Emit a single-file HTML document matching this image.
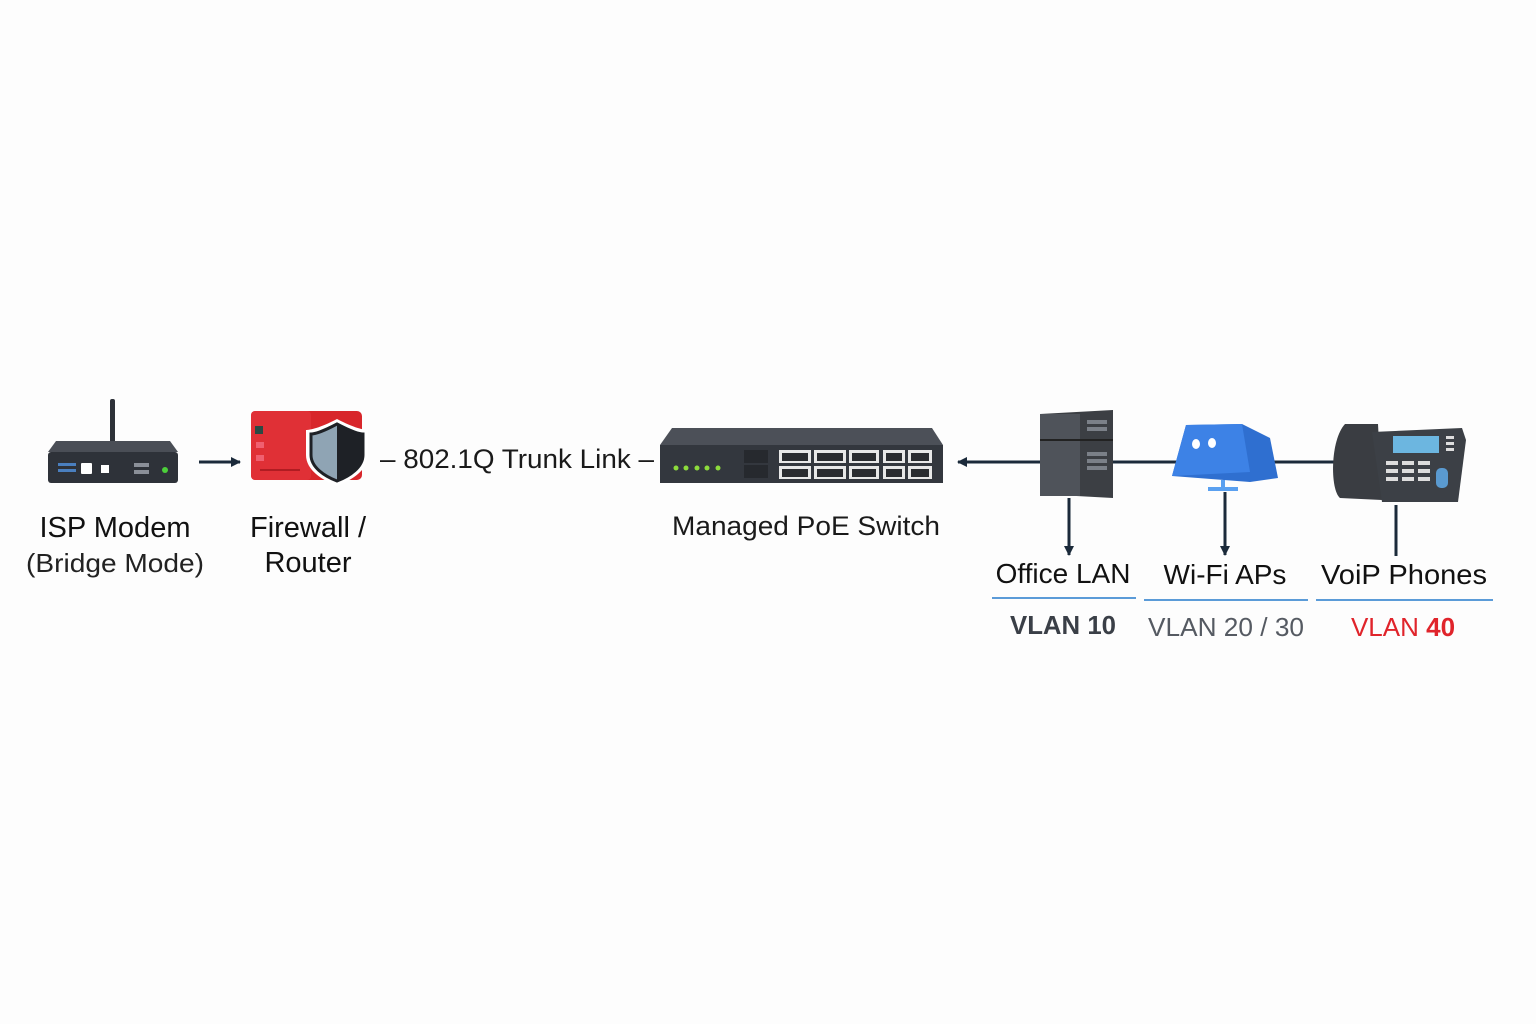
<!DOCTYPE html>
<html><head><meta charset="utf-8"><style>
html,body{margin:0;padding:0;background:#fdfdfd;}
svg{display:block;}
text{font-family:"Liberation Sans",sans-serif;}
</style></head><body>
<svg width="1536" height="1024" viewBox="0 0 1536 1024" xmlns="http://www.w3.org/2000/svg">
<defs>
<marker id="ah" markerWidth="10" markerHeight="10" refX="9" refY="5" orient="auto" markerUnits="userSpaceOnUse"><path d="M0,0 L10,5 L0,10 z" fill="#1b2a3a"/></marker>
</defs>
<rect width="1536" height="1024" fill="#fdfdfd"/>

<!-- Modem -->
<rect x="110" y="399" width="5" height="44" rx="2" fill="#2d3138"/>
<path d="M56,441 L170,441 L178,452 L48,452 Z" fill="#4a4e56"/>
<rect x="48" y="452" width="130" height="31" rx="3" fill="#2e3239"/>
<rect x="58" y="463" width="18" height="3" fill="#4a7fbf"/><rect x="58" y="469" width="18" height="3" fill="#4a7fbf"/>
<rect x="81" y="463" width="11" height="11" rx="1" fill="#fff"/>
<rect x="101" y="465" width="8" height="8" fill="#fff"/>
<rect x="134" y="463" width="15" height="4" fill="#8a8f98"/><rect x="134" y="470" width="15" height="4" fill="#8a8f98"/>
<circle cx="165" cy="470" r="3" fill="#4ccf3a"/>
<line x1="199" y1="462" x2="240" y2="462" stroke="#1b2a3a" stroke-width="3" marker-end="url(#ah)"/>

<!-- Firewall -->
<rect x="251" y="411" width="111" height="69" rx="5" fill="#d8262b"/>
<rect x="251" y="411" width="60" height="69" rx="4" fill="#e03036"/>
<rect x="255" y="426" width="8" height="8" fill="#2a4a44"/>
<rect x="256" y="442" width="8" height="6" fill="#f06070"/>
<rect x="256" y="455" width="8" height="6" fill="#f06070"/>
<line x1="260" y1="470" x2="300" y2="470" stroke="#b01c22" stroke-width="2"/>
<path d="M337,419 C320,428 310,430 306,430 L306,455 C306,470 322,480 337,486 C352,480 368,470 368,455 L368,430 C364,430 354,428 337,419 Z" fill="#fff"/>
<path d="M337,424 C322,432 314,434 311,434 L311,455 C311,467 324,476 337,481 Z" fill="#8fa4b4"/>
<path d="M337,424 C352,432 360,434 363,434 L363,455 C363,467 350,476 337,481 Z" fill="#1e2126"/>
<path d="M337,424 C322,432 314,434 311,434 L311,455 C311,467 324,476 337,481 C350,476 363,467 363,455 L363,434 C360,434 352,432 337,424 Z" fill="none" stroke="#1e2126" stroke-width="3"/>

<text x="380" y="468" font-size="27" fill="#1a1a1a" textLength="274" lengthAdjust="spacingAndGlyphs">– 802.1Q Trunk Link –</text>

<!-- Switch -->
<path d="M672,428 L932,428 L943,445 L660,445 Z" fill="#4c5058"/>
<rect x="660" y="445" width="283" height="38" fill="#33373e"/>
<g fill="#8ddb3c"><circle cx="676" cy="468" r="2.5"/><circle cx="686" cy="468" r="2.5"/><circle cx="697" cy="468" r="2.5"/><circle cx="707" cy="468" r="2.5"/><circle cx="718" cy="468" r="2.5"/></g>
<rect x="744" y="450" width="24" height="13" fill="#26292e"/><rect x="744" y="465" width="24" height="13" fill="#26292e"/>
<g fill="#e8e8e8">
<rect x="779" y="450" width="32" height="13"/><rect x="814" y="450" width="32" height="13"/><rect x="849" y="450" width="30" height="13"/><rect x="883" y="450" width="22" height="13"/><rect x="908" y="450" width="24" height="13"/>
<rect x="779" y="466" width="32" height="13"/><rect x="814" y="466" width="32" height="13"/><rect x="849" y="466" width="30" height="13"/><rect x="883" y="466" width="22" height="13"/><rect x="908" y="466" width="24" height="13"/>
</g>
<g fill="#2a2c30">
<rect x="782" y="453" width="26" height="8"/><rect x="817" y="453" width="26" height="8"/><rect x="852" y="453" width="24" height="8"/><rect x="886" y="453" width="16" height="8"/><rect x="911" y="453" width="18" height="8"/>
<rect x="782" y="469" width="26" height="8"/><rect x="817" y="469" width="26" height="8"/><rect x="852" y="469" width="24" height="8"/><rect x="886" y="469" width="16" height="8"/><rect x="911" y="469" width="18" height="8"/>
</g>
<text x="806" y="535" font-size="27" text-anchor="middle" fill="#1a1a1a" textLength="268" lengthAdjust="spacingAndGlyphs">Managed PoE Switch</text>

<line x1="1040" y1="462" x2="958" y2="462" stroke="#1b2a3a" stroke-width="3" marker-end="url(#ah)"/>
<line x1="1110" y1="462" x2="1340" y2="462" stroke="#1b2a3a" stroke-width="3"/>

<!-- Server -->
<path d="M1040,414 L1113,410 L1113,498 L1040,494 Z" fill="#3c3f44"/>
<rect x="1040" y="414" width="40" height="82" fill="#4f535a"/>
<line x1="1040" y1="440" x2="1113" y2="440" stroke="#222" stroke-width="2"/>
<g fill="#7b8088"><rect x="1087" y="420" width="20" height="4"/><rect x="1087" y="427" width="20" height="4"/><rect x="1087" y="452" width="20" height="4"/><rect x="1087" y="459" width="20" height="4"/><rect x="1087" y="466" width="20" height="4"/></g>
<line x1="1069" y1="498" x2="1069" y2="555" stroke="#1b2a3a" stroke-width="3" marker-end="url(#ah)"/>

<!-- AP -->
<path d="M1186,425 L1242,424 L1270,438 L1278,478 L1250,482 L1172,476 Z" fill="#2f6fd0"/>
<path d="M1186,425 L1242,424 L1250,472 L1172,476 Z" fill="#3d82e6"/>
<ellipse cx="1196" cy="444" rx="4" ry="5" fill="#fff"/><ellipse cx="1212" cy="443" rx="4" ry="5" fill="#fff"/>
<rect x="1221" y="480" width="4" height="8" fill="#5aa0f0"/><rect x="1208" y="487" width="30" height="4" fill="#5aa0f0"/>
<line x1="1225" y1="492" x2="1225" y2="555" stroke="#1b2a3a" stroke-width="3" marker-end="url(#ah)"/>

<!-- Phone -->
<path d="M1345,424 L1378,424 L1382,500 L1340,498 C1330,490 1330,440 1345,424 Z" fill="#3a3d42"/>
<path d="M1372,432 L1462,428 L1466,440 L1458,502 L1382,502 Z" fill="#3c4046"/>
<rect x="1393" y="436" width="46" height="17" fill="#6cb6e0"/>
<g fill="#ddd"><rect x="1446" y="436" width="8" height="3"/><rect x="1446" y="442" width="8" height="3"/><rect x="1446" y="448" width="8" height="3"/>
<rect x="1386" y="461" width="12" height="4"/><rect x="1402" y="461" width="12" height="4"/><rect x="1418" y="461" width="12" height="4"/>
<rect x="1386" y="469" width="12" height="4"/><rect x="1402" y="469" width="12" height="4"/><rect x="1418" y="469" width="12" height="4"/>
<rect x="1386" y="477" width="12" height="4"/><rect x="1402" y="477" width="12" height="4"/><rect x="1418" y="477" width="12" height="4"/></g>
<rect x="1436" y="468" width="12" height="20" rx="5" fill="#5a9ad0"/>
<line x1="1396" y1="505" x2="1396" y2="556" stroke="#1b2a3a" stroke-width="3"/>

<!-- Labels -->
<text x="115" y="537" font-size="29" text-anchor="middle" fill="#111">ISP Modem</text>
<text x="115" y="572" font-size="26" text-anchor="middle" fill="#222" textLength="178" lengthAdjust="spacingAndGlyphs">(Bridge Mode)</text>
<text x="308" y="537" font-size="29" text-anchor="middle" fill="#111">Firewall /</text>
<text x="308" y="572" font-size="29" text-anchor="middle" fill="#111">Router</text>

<text x="1063" y="583" font-size="28" text-anchor="middle" fill="#111">Office LAN</text>
<text x="1225" y="584" font-size="28" text-anchor="middle" fill="#111">Wi-Fi APs</text>
<text x="1404" y="584" font-size="28" text-anchor="middle" fill="#111" textLength="166" lengthAdjust="spacingAndGlyphs">VoiP Phones</text>
<line x1="992" y1="598" x2="1136" y2="598" stroke="#5b9bd8" stroke-width="2"/>
<line x1="1144" y1="600" x2="1308" y2="600" stroke="#5b9bd8" stroke-width="2"/>
<line x1="1316" y1="600" x2="1493" y2="600" stroke="#5b9bd8" stroke-width="2"/>
<text x="1063" y="634" font-size="26" text-anchor="middle" fill="#3a3f47" font-weight="bold" textLength="106" lengthAdjust="spacingAndGlyphs">VLAN 10</text>
<text x="1226" y="636" font-size="26" text-anchor="middle" fill="#555a62" textLength="156" lengthAdjust="spacingAndGlyphs">VLAN 20 / 30</text>
<text x="1403" y="636" font-size="26" text-anchor="middle" fill="#e0242b">VLAN <tspan font-weight="bold">40</tspan></text>
</svg>
</body></html>
